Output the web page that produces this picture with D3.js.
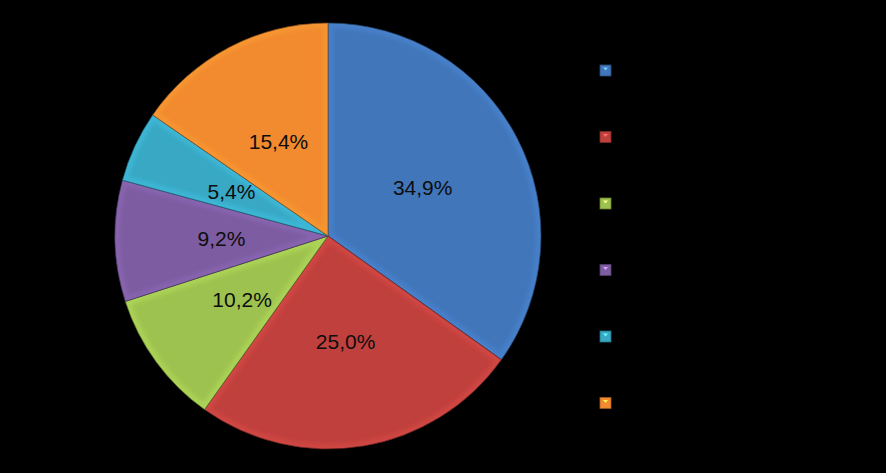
<!DOCTYPE html>
<html>
<head>
<meta charset="utf-8">
<script src="https://cdn.jsdelivr.net/npm/d3@7"></script>
<style>
  html, body { margin: 0; padding: 0; background: #000; }
  svg { display: block; }
</style>
</head>
<body>
<svg id="chart" width="886" height="473"></svg>
<script>
// ---- data ----
const categories = ["Kategorie 1", "Kategorie 2", "Kategorie 3", "Kategorie 4", "Kategorie 5", "Kategorie 6"];
const values = [34.9, 25.0, 10.2, 9.2, 5.4, 15.4];
const colors = ["#4176BA", "#C0403D", "#9EC24F", "#7D5CA1", "#38A8C4", "#F28A2F"];

const W = 886, H = 473;
const cx = 328, cy = 236, R = 213;

const svg = d3.select("#chart");
svg.append("rect").attr("width", W).attr("height", H).attr("fill", "#000");

const defs = svg.append("defs");
defs.append("filter").attr("id", "soft").attr("x", "-10%").attr("y", "-10%").attr("width", "120%").attr("height", "120%")
  .append("feGaussianBlur").attr("stdDeviation", 2);

const data = categories.map((c, i) => ({ name: c, value: values[i], color: colors[i] }));

const pie = d3.pie().value(d => d.value).sort(null);
const arcs = pie(data);
const arc = d3.arc().innerRadius(0).outerRadius(R);
const labelArc = d3.arc().innerRadius(R * 0.5).outerRadius(R * 0.5);

const fmt = v => d3.format(".1f")(v).replace(".", ",") + "%";

const g = svg.append("g").attr("transform", `translate(${cx},${cy})`);

arcs.forEach((a, i) => {
  defs.append("clipPath").attr("id", "clip" + i)
    .append("path").attr("d", arc(a));
});

const slices = g.selectAll("g.slice").data(arcs).enter().append("g").attr("class", "slice");

slices.append("path")
  .attr("d", arc)
  .attr("fill", d => d.data.color);

// bevel highlight (inner light rim)
slices.append("path")
  .attr("d", arc)
  .attr("clip-path", (d, i) => `url(#clip${i})`)
  .attr("fill", "none")
  .attr("stroke", d => d3.color(d.data.color).brighter(0.7))
  .attr("stroke-width", 10)
  .attr("stroke-opacity", 0.3)
  .attr("filter", "url(#soft)");

// dark outline
slices.append("path")
  .attr("d", arc)
  .attr("fill", "none")
  .attr("stroke", d => d3.color(d.data.color).darker(1.8))
  .attr("stroke-width", 1)
  .attr("stroke-opacity", 0.7);

// labels
g.selectAll("text.lbl").data(arcs).enter().append("text")
  .attr("class", "lbl")
  .attr("transform", d => `translate(${labelArc.centroid(d)})`)
  .attr("text-anchor", "middle")
  .attr("dy", "0.36em")
  .attr("font-family", "Liberation Sans, Arial, sans-serif")
  .attr("font-size", 21)
  .attr("fill", "#0d0d0d")
  .text(d => fmt(d.data.value));

// legend
const legendY = d3.scalePoint().domain(categories).range([70.5, 403]);
const lg = svg.append("g");
const items = lg.selectAll("g.item").data(data).enter().append("g")
  .attr("class", "item")
  .attr("transform", d => `translate(600,${legendY(d.name) - 5.5})`);

items.append("rect")
  .attr("width", 11).attr("height", 11)
  .attr("fill", d => d.color)
  .attr("stroke", d => d3.color(d.color).darker(1.2))
  .attr("stroke-width", 0.8);
items.append("path")
  .attr("d", "M3,2.5 L8,2.5 L5.5,5.5 Z")
  .attr("fill", d => d3.color(d.color).brighter(1.6));

items.append("text")
  .attr("x", 18).attr("y", 5.5).attr("dy", "0.35em")
  .attr("font-family", "Liberation Sans, Arial, sans-serif")
  .attr("font-size", 14)
  .attr("fill", "#000")
  .text(d => d.name);
</script>
</body>
</html>
